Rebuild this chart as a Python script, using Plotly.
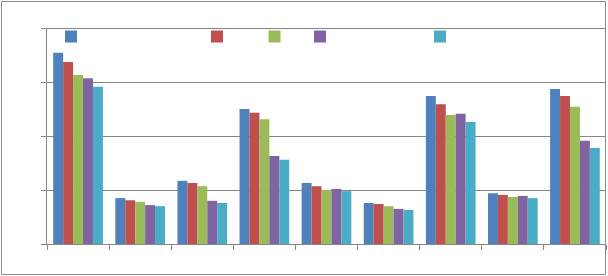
import plotly.graph_objects as go

categories = ["Cat 1", "Cat 2", "Cat 3", "Cat 4", "Cat 5", "Cat 6", "Cat 7", "Cat 8", "Cat 9"]
series_names = ["Series 1", "Series 2", "Series 3", "Series 4", "Series 5"]
s1 = [3.54, 0.85, 1.17, 2.50, 1.13, 0.76, 2.74, 0.94, 2.87]
s2 = [3.37, 0.81, 1.13, 2.43, 1.07, 0.74, 2.59, 0.91, 2.74]
s3 = [3.13, 0.78, 1.07, 2.31, 1.00, 0.70, 2.39, 0.87, 2.54]
s4 = [3.07, 0.72, 0.80, 1.63, 1.02, 0.65, 2.41, 0.89, 1.91]
s5 = [2.91, 0.70, 0.76, 1.56, 0.98, 0.63, 2.26, 0.85, 1.78]
y_ticks = [0, 1, 2, 3, 4]
colors = ["#4F81BD", "#C0504D", "#9BBB59", "#8064A2", "#4BACC6"]
legend_marker_x = [70, 216, 273.5, 319, 439]

W, H = 608, 276
ml, mr, mt, mb = 47, 2, 28, 32
pw, ph = W - ml - mr, H - mt - mb

def px(x):
    return (x - ml) / pw

def py(y):
    return (H - mb - y) / ph

fig = go.Figure()
legend_ids = ["legend", "legend2", "legend3", "legend4", "legend5"]
for name, vals, col, lid in zip(series_names, [s1, s2, s3, s4, s5], colors, legend_ids):
    fig.add_trace(go.Bar(x=categories, y=vals, name=name, legend=lid,
                         marker=dict(color=col, line=dict(width=0))))

legend_layout = {}
for lid, mx in zip(legend_ids, legend_marker_x):
    legend_layout[lid] = dict(orientation="h", x=px(mx - 19), y=py(22), xanchor="left", yanchor="top",
                              font=dict(color="white", size=10), bgcolor="rgba(0,0,0,0)")

fig.add_shape(type="rect", xref="paper", yref="paper",
              x0=px(1.5), x1=px(605.5), y0=py(274.5), y1=py(1.5),
              line=dict(color="#8c8c8c", width=1), layer="below")
# top gridline (at the range maximum)
fig.add_shape(type="line", xref="paper", yref="paper", x0=px(42), x1=1, y0=py(28.5), y1=py(28.5),
              line=dict(color="#868686", width=1), layer="above")

fig.update_layout(
    width=W, height=H,
    margin=dict(l=ml, r=mr, t=mt, b=mb),
    paper_bgcolor="white", plot_bgcolor="white",
    barmode="group", bargap=0.2, bargroupgap=0,
    font=dict(family="Liberation Sans", size=10, color="white"),
    showlegend=True,
    xaxis=dict(showline=True, linecolor="#868686", linewidth=1, ticks="outside",
               ticklen=5, tickcolor="#868686", tickfont=dict(color="white"),
               showgrid=False, tickson="boundaries"),
    yaxis=dict(range=[0, 4], tickvals=y_ticks, showgrid=True, gridcolor="#868686",
               gridwidth=1, showline=True, linecolor="#868686", linewidth=1,
               ticks="outside", ticklen=5, tickcolor="#868686",
               tickfont=dict(color="white"), zeroline=False),
    **legend_layout,
)

fig.write_html("out.html")
